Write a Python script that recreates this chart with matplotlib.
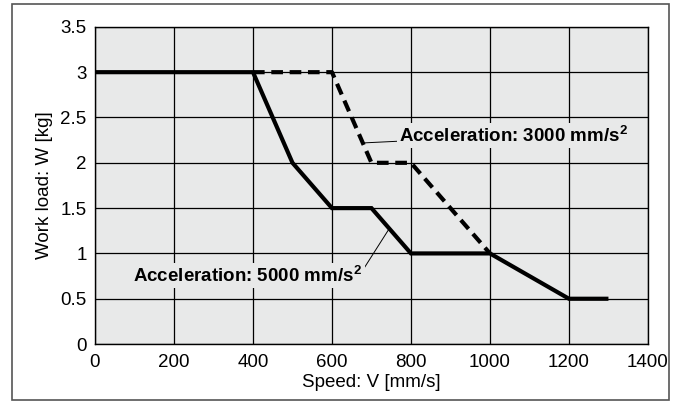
import matplotlib
matplotlib.use('Agg')
import matplotlib.pyplot as plt
from matplotlib.patches import Rectangle

plt.rcParams['font.family'] = ['Liberation Sans', 'DejaVu Sans']
plt.rcParams['mathtext.fontset'] = 'custom'
plt.rcParams['mathtext.bf'] = 'Liberation Sans:bold'
plt.rcParams['mathtext.rm'] = 'Liberation Sans'

# Datos de las curvas
speed_5000 = [0, 400, 500, 600, 700, 800, 1000, 1200, 1300]
load_5000 = [3, 3, 2, 1.5, 1.5, 1, 1, 0.5, 0.5]
speed_3000 = [400, 600, 700, 800, 1000]
load_3000 = [3, 3, 2, 2, 1]

x_ticks = [0, 200, 400, 600, 800, 1000, 1200, 1400]
y_ticks = [0, 0.5, 1, 1.5, 2, 2.5, 3, 3.5]
y_labels = ['0', '0.5', '1', '1.5', '2', '2.5', '3', '3.5']

fig = plt.figure(figsize=(6.76, 4.01), dpi=100)
ax = fig.add_axes([0.1405, 0.142, 0.818, 0.791])
ax.set_facecolor('#e8e9e9')

# Marco exterior
fig.patches.append(Rectangle((12 / 676, 1 / 401), 657 / 676, 396 / 401,
                             transform=fig.transFigure, fill=False,
                             edgecolor='#555555', linewidth=1.2))

ax.grid(True, color='black', linewidth=0.9)
ax.set_axisbelow(True)

ax.plot(speed_3000, load_3000, color='black', linewidth=3, linestyle=(0, (2.8, 1.6)),
        solid_capstyle='butt', dash_capstyle='butt', zorder=3)
ax.plot(speed_5000, load_5000, color='black', linewidth=3, solid_joinstyle='miter',
        solid_capstyle='butt', zorder=4)

ax.set_xlim(0, 1400)
ax.set_ylim(0, 3.5)
ax.set_xticks(x_ticks)
ax.set_yticks(y_ticks)
ax.set_yticklabels(y_labels)
ax.tick_params(length=0, labelsize=13.5)
ax.tick_params(axis='x', pad=7)
ax.tick_params(axis='y', pad=6)
for s in ax.spines.values():
    s.set_color('black')
    s.set_linewidth(1.0)

ax.set_xlabel('Speed: V [mm/s]', fontsize=13.5, labelpad=2)
ax.set_ylabel('Work load: W [kg]', fontsize=13.5, labelpad=5)

# Etiquetas con línea guía
bbox = dict(boxstyle='square,pad=0.12', facecolor='#e8e9e9', edgecolor='none')
ax.annotate('Acceleration: 3000 mm/s$^{\\mathbf{2}}$', xy=(682, 2.22), xytext=(770, 2.3),
            fontsize=13.5, fontweight='bold', va='center', ha='left', bbox=bbox,
            arrowprops=dict(arrowstyle='-', color='black', linewidth=0.7,
                            shrinkA=0, shrinkB=0), zorder=5)
ax.annotate('Acceleration: 5000 mm/s$^{\\mathbf{2}}$', xy=(743, 1.26), xytext=(97, 0.76),
            fontsize=13.5, fontweight='bold', va='center', ha='left', bbox=bbox,
            arrowprops=dict(arrowstyle='-', color='black', linewidth=0.7,
                            shrinkA=0, shrinkB=0, relpos=(1.0, 0.7)), zorder=5)

fig.savefig('out.png', dpi=100)
